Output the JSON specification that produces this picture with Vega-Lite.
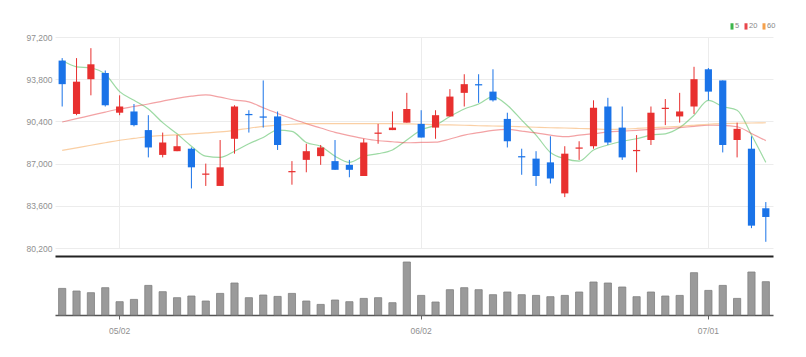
{
  "$schema": "https://vega.github.io/schema/vega-lite/v6.json",
  "background": "white",
  "padding": {"left": 7, "top": 21, "right": 5, "bottom": 5},
  "config": {
    "view": {"stroke": null},
    "axis": {"labelFont": "Liberation Sans", "labelFontSize": 8.5, "labelColor": "#8f8f8f", "title": null},
    "legend": {"labelFont": "Liberation Sans"}
  },
  "datasets": {
    "k": [
      {"d": "04/26", "o": 95300, "h": 95500, "l": 91600, "c": 93400, "v": 133000, "m5": 95300, "m20": 90350, "m60": 88060},
      {"d": "04/27", "o": 91000, "h": 95500, "l": 90900, "c": 93600, "v": 120000, "m5": 94800, "m20": 90620, "m60": 88270},
      {"d": "04/28", "o": 93800, "h": 96300, "l": 92500, "c": 95000, "v": 111500, "m5": 94700, "m20": 90880, "m60": 88480},
      {"d": "04/29", "o": 94300, "h": 94500, "l": 91600, "c": 91700, "v": 136500, "m5": 94200, "m20": 91150, "m60": 88680},
      {"d": "05/02", "o": 91100, "h": 92500, "l": 90900, "c": 91600, "v": 66500, "m5": 92800, "m20": 91400, "m60": 88880},
      {"d": "05/03", "o": 91200, "h": 91800, "l": 90000, "c": 90100, "v": 78000, "m5": 92100, "m20": 91600, "m60": 89030},
      {"d": "05/04", "o": 89700, "h": 90900, "l": 87500, "c": 88300, "v": 148000, "m5": 91400, "m20": 91800, "m60": 89180},
      {"d": "05/06", "o": 87700, "h": 89500, "l": 87500, "c": 88700, "v": 116500, "m5": 90300, "m20": 92030, "m60": 89260},
      {"d": "05/09", "o": 88000, "h": 89300, "l": 88000, "c": 88400, "v": 86500, "m5": 89400, "m20": 92260, "m60": 89320},
      {"d": "05/10", "o": 88200, "h": 88300, "l": 85000, "c": 86700, "v": 95000, "m5": 88400, "m20": 92430, "m60": 89390},
      {"d": "05/11", "o": 86100, "h": 87000, "l": 85200, "c": 86200, "v": 70000, "m5": 87600, "m20": 92540, "m60": 89470},
      {"d": "05/12", "o": 85200, "h": 88900, "l": 85200, "c": 86700, "v": 108000, "m5": 87500, "m20": 92350, "m60": 89550},
      {"d": "05/13", "o": 89000, "h": 91700, "l": 87800, "c": 91600, "v": 160000, "m5": 88000, "m20": 92120, "m60": 89680},
      {"d": "05/16", "o": 91000, "h": 91300, "l": 89500, "c": 90900, "v": 86500, "m5": 88600, "m20": 91970, "m60": 89850},
      {"d": "05/17", "o": 90800, "h": 93700, "l": 89900, "c": 90700, "v": 100000, "m5": 89100, "m20": 91500, "m60": 90000},
      {"d": "05/18", "o": 90800, "h": 91200, "l": 88100, "c": 88500, "v": 93000, "m5": 89700, "m20": 91040, "m60": 90100},
      {"d": "05/19", "o": 86300, "h": 87200, "l": 85300, "c": 86400, "v": 108000, "m5": 89600, "m20": 90620, "m60": 90170},
      {"d": "05/20", "o": 87300, "h": 88600, "l": 86300, "c": 88000, "v": 70000, "m5": 88700, "m20": 90220, "m60": 90220},
      {"d": "05/23", "o": 87600, "h": 88500, "l": 86900, "c": 88300, "v": 53000, "m5": 88400, "m20": 89870, "m60": 90220},
      {"d": "05/24", "o": 87200, "h": 88900, "l": 86500, "c": 86500, "v": 75000, "m5": 87600, "m20": 89520, "m60": 90220},
      {"d": "05/25", "o": 86900, "h": 87300, "l": 85900, "c": 86500, "v": 66500, "m5": 87100, "m20": 89260, "m60": 90220},
      {"d": "05/26", "o": 86000, "h": 89000, "l": 86000, "c": 88700, "v": 83000, "m5": 87600, "m20": 89020, "m60": 90220},
      {"d": "05/27", "o": 89400, "h": 90200, "l": 88600, "c": 89500, "v": 86500, "m5": 87800, "m20": 88840, "m60": 90220},
      {"d": "05/30", "o": 89700, "h": 91200, "l": 89700, "c": 89900, "v": 61500, "m5": 88100, "m20": 88760, "m60": 90220},
      {"d": "05/31", "o": 90300, "h": 92700, "l": 90300, "c": 91400, "v": 265000, "m5": 88900, "m20": 88680, "m60": 90200},
      {"d": "06/02", "o": 90200, "h": 91300, "l": 89100, "c": 89100, "v": 98000, "m5": 89700, "m20": 88710, "m60": 90170},
      {"d": "06/03", "o": 89900, "h": 91300, "l": 89000, "c": 90900, "v": 65000, "m5": 90100, "m20": 88730, "m60": 90130},
      {"d": "06/07", "o": 90800, "h": 93000, "l": 90800, "c": 92400, "v": 126500, "m5": 90800, "m20": 88980, "m60": 90120},
      {"d": "06/08", "o": 92700, "h": 94200, "l": 91600, "c": 93400, "v": 136500, "m5": 91400, "m20": 89300, "m60": 90090},
      {"d": "06/09", "o": 93400, "h": 94200, "l": 91900, "c": 93300, "v": 126500, "m5": 91800, "m20": 89490, "m60": 90050},
      {"d": "06/10", "o": 92800, "h": 94600, "l": 92000, "c": 92100, "v": 101500, "m5": 92400, "m20": 89680, "m60": 90030},
      {"d": "06/13", "o": 90600, "h": 91100, "l": 88300, "c": 88800, "v": 115000, "m5": 91700, "m20": 89760, "m60": 90010},
      {"d": "06/14", "o": 87600, "h": 88200, "l": 86100, "c": 87500, "v": 101500, "m5": 90500, "m20": 89620, "m60": 89970},
      {"d": "06/15", "o": 87400, "h": 88000, "l": 85200, "c": 86000, "v": 98000, "m5": 89300, "m20": 89470, "m60": 89930},
      {"d": "06/16", "o": 87100, "h": 89200, "l": 85400, "c": 85800, "v": 91500, "m5": 87900, "m20": 89290, "m60": 89890},
      {"d": "06/17", "o": 84600, "h": 88400, "l": 84300, "c": 87800, "v": 98000, "m5": 87400, "m20": 89170, "m60": 89870},
      {"d": "06/20", "o": 88200, "h": 88800, "l": 87300, "c": 88300, "v": 115000, "m5": 87200, "m20": 89290, "m60": 89830},
      {"d": "06/21", "o": 88400, "h": 92100, "l": 88200, "c": 91500, "v": 165000, "m5": 88100, "m20": 89410, "m60": 89790},
      {"d": "06/22", "o": 91600, "h": 92300, "l": 88500, "c": 88700, "v": 160000, "m5": 88500, "m20": 89540, "m60": 89750},
      {"d": "06/23", "o": 89900, "h": 91600, "l": 87300, "c": 87500, "v": 140000, "m5": 88800, "m20": 89610, "m60": 89770},
      {"d": "06/24", "o": 88000, "h": 89300, "l": 86300, "c": 88100, "v": 91500, "m5": 89000, "m20": 89680, "m60": 89830},
      {"d": "06/27", "o": 88900, "h": 91600, "l": 88500, "c": 91100, "v": 115000, "m5": 89300, "m20": 89750, "m60": 89890},
      {"d": "06/28", "o": 91400, "h": 92200, "l": 90100, "c": 91500, "v": 95000, "m5": 89400, "m20": 89810, "m60": 89940},
      {"d": "06/29", "o": 90800, "h": 92700, "l": 90300, "c": 91200, "v": 98000, "m5": 89900, "m20": 89900, "m60": 90010},
      {"d": "06/30", "o": 91600, "h": 94800, "l": 91000, "c": 93800, "v": 211500, "m5": 90900, "m20": 90000, "m60": 90090},
      {"d": "07/01", "o": 94600, "h": 94700, "l": 92100, "c": 92800, "v": 123000, "m5": 92100, "m20": 90090, "m60": 90170},
      {"d": "07/04", "o": 93700, "h": 93700, "l": 87900, "c": 88500, "v": 148000, "m5": 91600, "m20": 90080, "m60": 90220},
      {"d": "07/05", "o": 88900, "h": 90300, "l": 87500, "c": 89800, "v": 83000, "m5": 91300, "m20": 89970, "m60": 90250},
      {"d": "07/06", "o": 88200, "h": 89200, "l": 81800, "c": 82000, "v": 215000, "m5": 89300, "m20": 89430, "m60": 90270},
      {"d": "07/07", "o": 83400, "h": 83900, "l": 80700, "c": 82700, "v": 166500, "m5": 87100, "m20": 88850, "m60": 90290}
    ]
  },
  "spacing": 4,
  "resolve": {"legend": {"color": "independent"}},
  "vconcat": [
    {
      "width": 718,
      "height": 211,
      "data": {"name": "k"},
      "encoding": {
        "x": {
          "field": "d", "type": "ordinal", "sort": null,
          "scale": {"type": "band", "paddingInner": 0.5, "paddingOuter": 0.25},
          "axis": {"values": ["05/02", "06/02", "07/01"], "labels": false, "ticks": false, "domain": true, "domainColor": "#222222", "domainWidth": 2, "offset": 8, "grid": true, "gridColor": "#ececec", "bandPosition": 0.5, "minExtent": 0, "maxExtent": 12}
        }
      },
      "layer": [
        {
          "transform": [{"fold": ["m5", "m20", "m60"], "as": ["ma", "p"]}],
          "mark": {"type": "line", "strokeWidth": 1.2, "opacity": 0.5, "interpolate": "monotone"},
          "encoding": {
            "y": {
              "field": "p", "type": "quantitative",
              "scale": {"domain": [80200, 97200], "nice": false, "zero": false},
              "axis": {"values": [80200, 83600, 87000, 90400, 93800, 97200], "format": ",d", "grid": true, "gridColor": "#ececec", "domain": false, "ticks": false, "labelPadding": 3, "minExtent": 48, "maxExtent": 48, "labelFlush": false}
            },
            "color": {
              "field": "ma", "type": "nominal",
              "scale": {"domain": ["m5", "m20", "m60"], "range": ["#3cb54a", "#e8454a", "#f5a04a"]},
              "legend": {"title": null, "orient": "none", "legendX": 672, "legendY": -16, "direction": "horizontal", "symbolType": "M0,-1L0,1", "symbolSize": 40, "symbolStrokeWidth": 3, "symbolOpacity": 1, "labelExpr": "replace(datum.label, 'm', '')", "labelFontSize": 7.5, "labelColor": "#888888", "labelOffset": -2, "columnPadding": 0, "padding": 0, "rowPadding": 0}
            }
          }
        },
        {
          "mark": {"type": "rule", "strokeWidth": 1},
          "encoding": {
            "y": {"field": "l", "type": "quantitative", "scale": {"domain": [80200, 97200], "nice": false, "zero": false}},
            "y2": {"field": "h"},
            "color": {"condition": {"test": "datum.c > datum.o", "value": "#e8302f"}, "value": "#1a73e8"}
          }
        },
        {
          "mark": {"type": "bar"},
          "encoding": {
            "y": {"field": "o", "type": "quantitative", "scale": {"domain": [80200, 97200], "nice": false, "zero": false}},
            "y2": {"field": "c"},
            "color": {"condition": {"test": "datum.c > datum.o", "value": "#e8302f"}, "value": "#1a73e8"}
          }
        }
      ]
    },
    {
      "width": 718,
      "height": 55,
      "data": {"name": "k"},
      "mark": {"type": "bar", "color": "#9a9a9a", "stroke": "#808080", "strokeWidth": 0.8},
      "encoding": {
        "x": {
          "field": "d", "type": "ordinal", "sort": null,
          "scale": {"type": "band", "paddingInner": 0.5, "paddingOuter": 0.25},
          "axis": {"values": ["05/02", "06/02", "07/01"], "labelAngle": 0, "grid": false, "tickSize": 4, "tickColor": "#666666", "domainColor": "#555555", "domainWidth": 1.5, "labelPadding": 7, "bandPosition": 0.5}
        },
        "y": {
          "field": "v", "type": "quantitative",
          "scale": {"domain": [0, 275000], "nice": false},
          "axis": {"labels": false, "ticks": false, "domain": false, "grid": false, "minExtent": 48, "maxExtent": 48}
        }
      }
    }
  ]
}
